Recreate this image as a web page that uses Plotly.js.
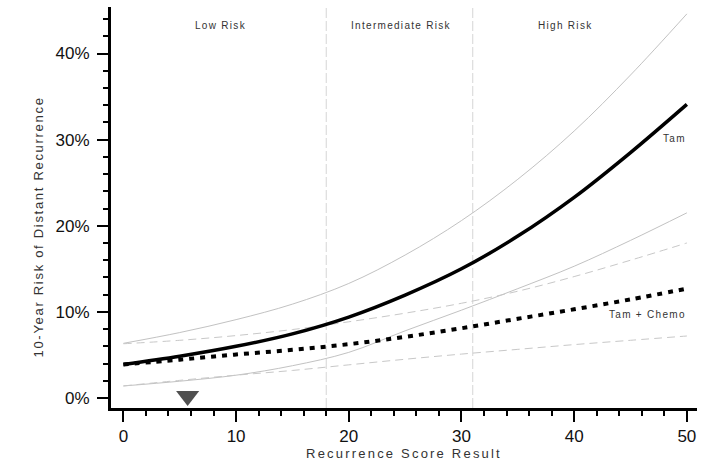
<!DOCTYPE html>
<html>
<head>
<meta charset="utf-8">
<script src="https://cdn.plot.ly/plotly-3.0.1.min.js"></script>
<style>html,body{margin:0;padding:0;background:#fff;}#chart{width:720px;height:463px;}</style>
</head>
<body>
<div id="chart"></div>
<script>
// Recurrence score (x) values
const score = [0, 5, 10, 15, 20, 25, 30, 35, 40, 45, 50];
// 10-year distant recurrence risk (%)
const tam        = [3.9, 4.85, 6.0, 7.45, 9.4, 11.95, 15.0, 18.8, 23.3, 28.5, 34.1];
const tamUpper   = [6.35, 7.6, 9.1, 10.9, 13.3, 16.6, 20.6, 25.4, 31.0, 37.5, 44.6];
const tamLower   = [1.4, 1.95, 2.65, 3.75, 5.3, 7.8, 10.2, 12.7, 15.3, 18.3, 21.5];
const chemo      = [3.9, 4.45, 5.05, 5.6, 6.25, 7.1, 8.1, 9.2, 10.3, 11.45, 12.7];
const chemoUpper = [6.3, 6.7, 7.25, 7.95, 8.85, 9.85, 11.0, 12.4, 14.1, 16.0, 18.0];
const chemoLower = [1.4, 2.05, 2.65, 3.2, 3.85, 4.5, 5.1, 5.65, 6.2, 6.7, 7.2];
// axis ticks
const xTickVals = [0, 10, 20, 30, 40, 50];
const yTickVals = [0, 10, 20, 30, 40];
const yTickText = ["0%", "10%", "20%", "30%", "40%"];
// risk group cutoffs and labels
const cutoffs = [18, 31];
const riskLabels = ["Low Risk", "Intermediate Risk", "High Risk"];
const riskLabelX = [8.6, 24.6, 39.2];
// curve labels
const curveLabels = ["Tam", "Tam + Chemo"];
const curveLabelY = [30.1, 9.7];
// patient marker
const patientScore = [5.7];
const patientY = [0.23];

const FONT = 'Liberation Sans, Arial, sans-serif';
const spaced = (t, px) => '<span style="letter-spacing:' + px + 'px">' + t + '</span>';

const ciSolid = {color: '#c2c2c2', width: 1};
const ciDash = {color: '#c8c8c8', width: 1, dash: '8px,5px'};

const traces = [
  {x: score, y: tamUpper, mode: 'lines', line: Object.assign({shape: 'spline'}, ciSolid)},
  {x: score, y: tamLower, mode: 'lines', line: Object.assign({shape: 'spline'}, ciSolid)},
  {x: score, y: chemoUpper, mode: 'lines', line: Object.assign({shape: 'spline'}, ciDash)},
  {x: score, y: chemoLower, mode: 'lines', line: Object.assign({shape: 'spline'}, ciDash)},
  {x: score, y: chemo, mode: 'lines', line: {shape: 'spline', color: '#000', width: 4, dash: '5px,6px'}},
  {x: score, y: tam, mode: 'lines', line: {shape: 'spline', color: '#000', width: 3.5}},
  {x: patientScore, y: patientY, mode: 'markers', marker: {symbol: 'triangle-down', size: 20, color: '#505050'}, cliponaxis: false}
];

const shapes = cutoffs.map(c => ({
  type: 'line', xref: 'x', yref: 'paper', x0: c, x1: c, y0: 0, y1: 1,
  line: {color: '#d6d6d6', width: 1, dash: '10px,3px'}, layer: 'below'
}));

const smallFont = {family: FONT, size: 10, color: '#333'};
const annotations = riskLabels.map((t, i) => ({
  text: spaced(t, 1.3), x: riskLabelX[i], y: 43.2, xref: 'x', yref: 'y', showarrow: false, font: smallFont
}));
curveLabels.forEach((t, i) => annotations.push({
  text: spaced(t, 1.3), x: 50.1, y: curveLabelY[i], xref: 'x', yref: 'y', xanchor: 'right', showarrow: false, font: smallFont
}));

const L = 111, R = 23, T = 7, B = 55, W = 720, H = 463;
const pw = W - L - R, ph = H - T - B;
annotations.push({
  text: spaced('10-Year Risk of Distant Recurrence', 1.7),
  x: (37.5 - L) / pw, y: (H - B - 227) / ph, xref: 'paper', yref: 'paper',
  xanchor: 'center', yanchor: 'middle', showarrow: false, textangle: -90,
  font: {family: FONT, size: 13, color: '#333'}
});

const axisFont = {family: FONT, size: 17, color: '#111'};

const layout = {
  width: W, height: H,
  margin: {l: L, r: R, t: T, b: B, pad: 0},
  paper_bgcolor: '#fff', plot_bgcolor: '#fff',
  showlegend: false,
  xaxis: {
    range: [-1.1, 50.9], tickmode: 'array', tickvals: xTickVals, ticks: 'outside', ticklen: 11, tickwidth: 2,
    tickcolor: '#000', showline: true, linecolor: '#000', linewidth: 3, showgrid: false, zeroline: false,
    tickfont: axisFont,
    minor: {dtick: 2, tick0: 0, ticks: 'outside', ticklen: 5, tickwidth: 2, tickcolor: '#000', showgrid: false},
    title: {text: spaced('Recurrence Score Result', 2.2), standoff: 2, font: {family: FONT, size: 13, color: '#333'}}
  },
  yaxis: {
    range: [-1.16, 45.4], tickmode: 'array', tickvals: yTickVals, ticktext: yTickText, ticks: 'outside', ticklen: 11, tickwidth: 2,
    tickcolor: '#000', showline: true, linecolor: '#000', linewidth: 3, showgrid: false, zeroline: false,
    tickfont: axisFont, ticklabelstandoff: 4,
    minor: {dtick: 2, tick0: 0, ticks: 'outside', ticklen: 5, tickwidth: 2, tickcolor: '#000', showgrid: false}
  },
  shapes: shapes,
  annotations: annotations
};

Plotly.newPlot('chart', traces, layout, {displayModeBar: false, staticPlot: true});
</script>
</body>
</html>
